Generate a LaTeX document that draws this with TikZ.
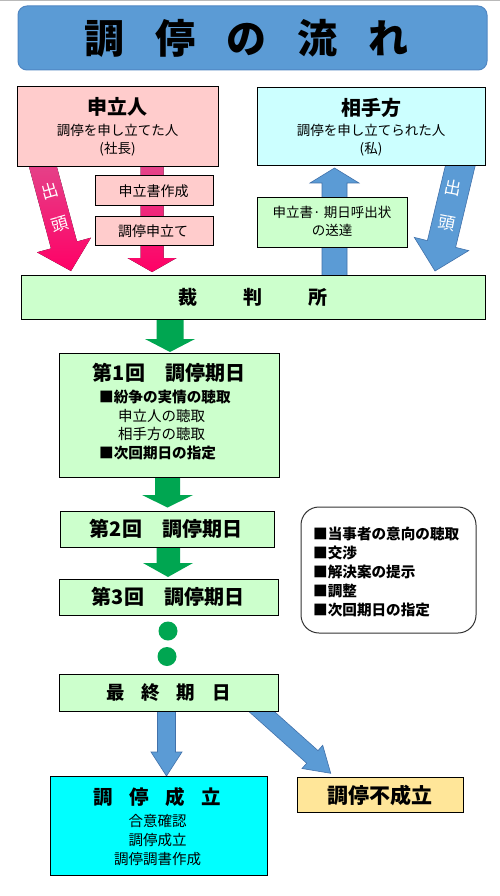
\documentclass[tikz,border=0pt]{standalone}
\usepackage{fontspec}
\setmainfont{Noto Sans CJK JP}
\definecolor{titleblue}{RGB}{91,155,213}
\definecolor{titleedge}{RGB}{80,135,195}
\definecolor{pinkbox}{RGB}{255,204,204}
\definecolor{cyanlight}{RGB}{204,255,255}
\definecolor{greenlight}{RGB}{204,255,204}
\definecolor{cyanfull}{RGB}{0,255,255}
\definecolor{orangelight}{RGB}{255,230,153}
\definecolor{pinktop}{RGB}{226,72,140}
\definecolor{pinkbot}{RGB}{255,0,102}
\definecolor{arrowblue}{RGB}{91,155,213}
\definecolor{arrowblueedge}{RGB}{65,113,170}
\definecolor{arrowgreen}{RGB}{0,166,81}
\tikzset{
  box/.style={draw=black, line width=1pt, inner sep=0pt, outer sep=0pt},
  txt/.style={inner sep=0pt, font=\fontsize{13.5}{16}\selectfont},
  mtxt/.style={inner sep=0pt, font=\fontsize{14.5}{17}\selectfont},
  btxt/.style={inner sep=0pt, font=\fontsize{14.6}{17}\selectfont\bfseries},
  htxt/.style={inner sep=0pt, font=\fontsize{20}{24}\selectfont\bfseries},
  pinkarrow/.style={top color=pinktop, bottom color=pinkbot, draw=none},
  bluearrow/.style={fill=arrowblue, draw=arrowblueedge, line width=0.6pt},
  greenarrow/.style={fill=arrowgreen, draw=none},
  shutto/.style={inner sep=0pt, text=white, align=center, font=\fontsize{17}{35}\selectfont},
}
\begin{document}
\begin{tikzpicture}[x=1pt, y=-1pt]
\useasboundingbox (0,0) rectangle (500,896);
\fill[white] (0,0) rectangle (500,896);
\draw[gray!55, line width=1.2pt] (0,0.6) -- (500,0.6);

% ---------- block arrows (behind boxes) ----------
\fill[pinkarrow] (27.4,160.8) -- (51,248.5) -- (37,252.3) -- (71,271) -- (91,237.7) -- (77,241.5) -- (53.4,153.8) -- cycle;
\fill[pinkarrow] (140.5,160) -- (140.5,258) -- (127.5,258) -- (152,272) -- (176.5,258) -- (163.5,258) -- (163.5,160) -- cycle;
\filldraw[bluearrow] (322,280) -- (322,183) -- (310,183) -- (334.5,168) -- (359,183) -- (347,183) -- (347,280) -- cycle;
\filldraw[bluearrow] (448.2,153.9) -- (427.4,240.6) -- (414.3,237.4) -- (435,271) -- (468.7,250.6) -- (455.6,247.4) -- (476.4,160.7) -- cycle;
\fill[greenarrow] (156.5,312) -- (156.5,339) -- (145,339) -- (170,352) -- (195,339) -- (183.5,339) -- (183.5,312) -- cycle;
\fill[greenarrow] (155,470) -- (155,495) -- (142,495) -- (167.5,507.5) -- (193,495) -- (180,495) -- (180,470) -- cycle;
\fill[greenarrow] (156.5,540) -- (156.5,563) -- (143,563) -- (168,577) -- (193,563) -- (180,563) -- (180,540) -- cycle;
\filldraw[bluearrow] (157.5,705) -- (157.5,752) -- (151,752) -- (166.5,776) -- (182,752) -- (175.5,752) -- (175.5,705) -- cycle;
\filldraw[bluearrow] (247.8,710.6) -- (306.7,763.2) -- (302.0,768.5) -- (330.7,773.3) -- (322.7,745.3) -- (318.0,750.6) -- (259.2,698.0) -- cycle;

% ---------- boxes ----------
\node[box, draw=titleedge, fill=titleblue, rounded corners=9pt, minimum width=469, minimum height=64] (title) at (252.5,38) {};
\node[box, fill=pinkbox, minimum width=201, minimum height=80] (app) at (117.5,127) {};
\node[box, fill=cyanlight, minimum width=228, minimum height=78] (resp) at (371,127) {};
\node[box, fill=pinkbox, minimum width=118, minimum height=29] (mk1) at (154,190.5) {};
\node[box, fill=pinkbox, minimum width=118, minimum height=29] (mk2) at (154,230.5) {};
\node[box, fill=greenlight, minimum width=150, minimum height=50] (send) at (332,222) {};
\node[box, fill=greenlight, minimum width=464, minimum height=44] (court) at (253,297) {};
\node[box, fill=greenlight, minimum width=220, minimum height=124] (d1) at (169,415) {};
\node[box, fill=greenlight, minimum width=214, minimum height=36] (d2) at (167,529) {};
\node[box, fill=greenlight, minimum width=219, minimum height=36] (d3) at (168.5,597) {};
\node[box, fill=white, draw=black!80, rounded corners=18pt, minimum width=175, minimum height=126] (note) at (388.5,570) {};
\node[box, fill=greenlight, minimum width=219, minimum height=37] (final) at (168.5,692.5) {};
\node[box, fill=cyanfull, minimum width=217, minimum height=99] (ok) at (158.5,825.5) {};
\node[box, fill=orangelight, minimum width=166, minimum height=35] (ng) at (380,794.5) {};

\fill[arrowgreen] (168,631) circle[radius=9.5];
\fill[arrowgreen] (167,656.5) circle[radius=9.5];

% ---------- texts ----------
\node[inner sep=0pt, font=\fontsize{40}{44}\selectfont\bfseries] (titletext) at (246,38) {調\hspace{31pt}停\hspace{31pt}の\hspace{31pt}流\hspace{31pt}れ};

\node[htxt] (appname) at (117.5,107) {申立人};
\node[txt] (appdesc) at (117.5,130) {調停を申し立てた人};
\node[txt] (appwho) at (117.5,149) {(社長)};
\node[htxt] (respname) at (371,108) {相手方};
\node[txt] (respdesc) at (371,130) {調停を申し立てられた人};
\node[txt] (respwho) at (371,149) {(私)};

\node[shutto, rotate=16] (shutto1) at (55,207.5) {出\\頭};
\node[shutto, rotate=-11] (shutto2) at (450,205.5) {出\\頭};

\node[txt, font=\fontsize{14}{16}\selectfont] (mk1t) at (153.5,191) {申立書作成};
\node[txt, font=\fontsize{14}{16}\selectfont] (mk2t) at (153,231) {調停申立て};
\node[txt] (sendt1) at (332,212.5) {申立書· 期日呼出状};
\node[txt] (sendt2) at (332,230.5) {の送達};

\node[inner sep=0pt, font=\fontsize{19}{22}\selectfont\bfseries] (courtt) at (253,297) {裁\hspace{46pt}判\hspace{46pt}所};

\node[htxt] (d1t) at (169,373) {第1回　調停期日};
\node[btxt, anchor=west] (d1a) at (99,397) {■紛争の実情の聴取};
\node[mtxt, anchor=west] (d1b) at (118,415.5) {申立人の聴取};
\node[mtxt, anchor=west] (d1c) at (118,434) {相手方の聴取};
\node[btxt, anchor=west] (d1d) at (99,453) {■次回期日の指定};
\node[htxt] (d2t) at (166,529) {第2回　調停期日};
\node[htxt] (d3t) at (168,597) {第3回　調停期日};

\node[btxt, anchor=west] (n1) at (313,533.5) {■当事者の意向の聴取};
\node[btxt, anchor=west] (n2) at (313,553) {■交渉};
\node[btxt, anchor=west] (n3) at (313,572) {■解決案の提示};
\node[btxt, anchor=west] (n4) at (313,591) {■調整};
\node[btxt, anchor=west] (n5) at (313,610) {■次回期日の指定};

\node[inner sep=0pt, font=\fontsize{18.5}{22}\selectfont\bfseries] (finalt) at (168.5,693) {最\hspace{17pt}終\hspace{17pt}期\hspace{17pt}日};

\node[inner sep=0pt, font=\fontsize{19.5}{22}\selectfont\bfseries] (okt) at (157.5,797) {調\hspace{16.5pt}停\hspace{16.5pt}成\hspace{16.5pt}立};
\node[mtxt] (ok1) at (157.5,821) {合意確認};
\node[mtxt] (ok2) at (157.5,840) {調停成立};
\node[mtxt] (ok3) at (157.5,859) {調停調書作成};
\node[inner sep=0pt, font=\fontsize{21}{24}\selectfont\bfseries] (ngt) at (380,795) {調停不成立};
\end{tikzpicture}
\end{document}
